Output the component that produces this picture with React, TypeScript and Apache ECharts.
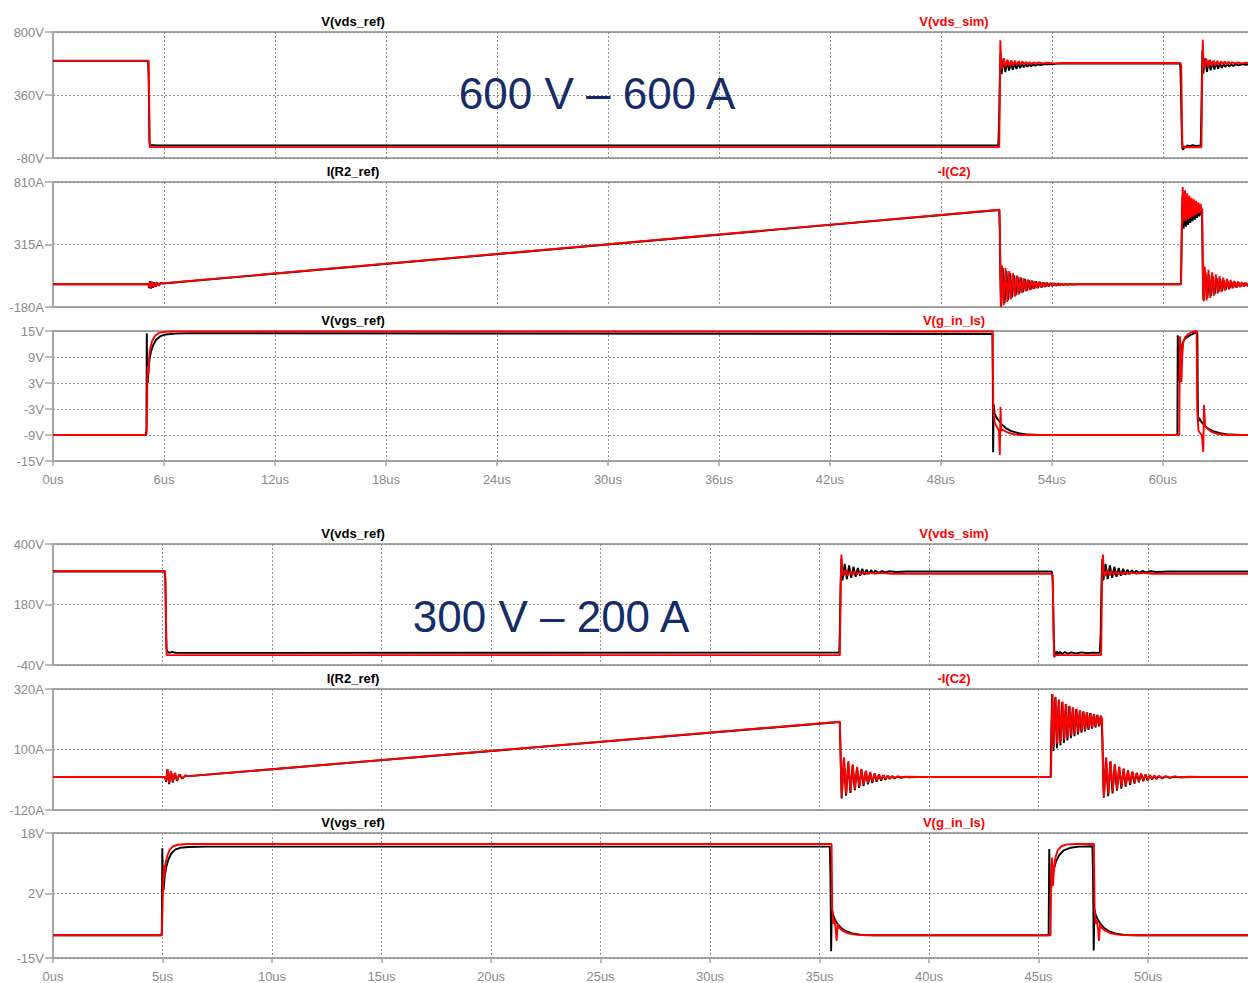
import React, { useEffect, useRef } from 'react';
import * as echarts from 'echarts';

// ---------- tick values ----------
const topTimeTicks = [0, 6, 12, 18, 24, 30, 36, 42, 48, 54, 60];
const bottomTimeTicks = [0, 5, 10, 15, 20, 25, 30, 35, 40, 45, 50];

const vdsTopTicks = [-80, 360, 800];
const iTopTicks = [-180, 315, 810];
const vgsTopTicks = [-15, -9, -3, 3, 9, 15];
const vdsBottomTicks = [-40, 180, 400];
const iBottomTicks = [-120, 100, 320];
const vgsBottomTicks = [-15, 2, 18];

// ---------- 600 V / 600 A waveforms [t (us), value] ----------
const vdsRefTop = [
  [0, 598], [5.14, 598], [5.17, 470], [5.19, 300], [5.21, 40], [5.24, 12], [5.6, 8], [51.1, 8],
  [51.14, 160], [51.18, 470], [51.22, 650], [51.28, 505], [51.38, 615], [51.48, 520], [51.58, 600],
  [51.68, 530], [51.78, 592], [51.88, 536], [51.98, 585], [52.08, 542], [52.18, 580], [52.28, 548],
  [52.38, 577], [52.48, 553], [52.58, 575], [52.68, 557], [52.78, 574], [52.88, 561], [52.98, 574],
  [53.1, 565], [53.25, 574], [53.4, 569], [53.6, 576], [53.9, 574], [54.3, 579], [60.9, 580],
  [60.94, 560], [60.97, 420], [61.0, 200], [61.03, 40], [61.06, -15], [61.1, -22], [61.15, 2],
  [61.22, -8], [61.32, 8], [61.45, 2], [61.6, 9], [61.8, 5], [62.04, 8],
  [62.07, 180], [62.1, 450], [62.13, 670], [62.18, 510], [62.28, 615], [62.38, 522], [62.48, 600],
  [62.58, 532], [62.68, 592], [62.78, 538], [62.88, 585], [62.98, 544], [63.08, 580], [63.18, 550],
  [63.28, 577], [63.38, 555], [63.48, 575], [63.58, 559], [63.68, 574], [63.8, 563], [63.95, 574],
  [64.1, 567], [64.3, 575], [64.5, 571], [64.8, 577], [65.2, 576],
];
const vdsSimTop = [
  [0, 600], [5.17, 600], [5.2, 320], [5.23, -4], [51.15, -4], [51.18, 320], [51.21, 742],
  [51.25, 610], [51.3, 545], [51.4, 615], [51.5, 555], [51.6, 607], [51.7, 560], [51.8, 603],
  [51.9, 565], [52.0, 599], [52.1, 569], [52.2, 596], [52.3, 572], [52.4, 594], [52.5, 574],
  [52.6, 592], [52.7, 576], [52.8, 590], [52.9, 577], [53.0, 588], [53.15, 579], [53.3, 587],
  [53.5, 580], [53.75, 585], [54.1, 581], [54.6, 583], [60.95, 583],
  [60.99, 560], [61.02, 250], [61.05, 20], [61.08, -5], [62.08, -5],
  [62.11, 360], [62.15, 745], [62.19, 600], [62.24, 548], [62.34, 614], [62.44, 556], [62.54, 606],
  [62.64, 562], [62.74, 601], [62.84, 566], [62.94, 598], [63.04, 570], [63.14, 595], [63.24, 573],
  [63.34, 593], [63.44, 575], [63.54, 591], [63.64, 577], [63.76, 589], [63.9, 579], [64.05, 587],
  [64.25, 580], [64.5, 585], [64.8, 582], [65.2, 583],
];

const iRefTop = [
  [0, 0], [5.16, 0], [5.19, -30], [5.24, 24], [5.29, -34], [5.35, 20], [5.41, -28], [5.48, 16],
  [5.55, -20], [5.63, 14], [5.72, -12], [5.82, 12], [5.95, 6], [51.15, 588],
  [51.18, 430], [51.21, 80], [51.24, -178], [51.34, 130], [51.44, -150], [51.54, 105], [51.64, -125],
  [51.74, 88], [51.84, -105], [51.94, 72], [52.04, -88], [52.14, 60], [52.24, -74], [52.34, 50],
  [52.44, -62], [52.54, 41], [52.64, -52], [52.74, 34], [52.84, -43], [52.94, 28], [53.04, -36],
  [53.14, 23], [53.24, -30], [53.34, 19], [53.44, -25], [53.54, 15], [53.64, -20], [53.74, 12],
  [53.84, -16], [53.94, 10], [54.04, -13], [54.14, 8], [54.24, -10], [54.34, 6], [54.44, -8],
  [54.54, 4], [54.64, -6], [54.74, 3], [54.84, -4], [54.94, 2], [55.1, -2], [55.4, 0], [60.97, 0],
  [61.0, 250], [61.03, 560], [61.06, 700], [61.12, 440], [61.18, 690], [61.24, 455], [61.3, 675],
  [61.36, 470], [61.42, 662], [61.48, 485], [61.54, 650], [61.6, 500], [61.66, 638], [61.72, 512],
  [61.78, 628], [61.84, 525], [61.9, 618], [61.96, 538], [62.02, 608], [62.08, 548], [62.11, 560],
  [62.14, 250], [62.17, -60], [62.2, -125], [62.3, 95], [62.4, -110], [62.5, 75], [62.6, -92],
  [62.7, 60], [62.8, -76], [62.9, 48], [63.0, -63], [63.1, 38], [63.2, -52], [63.3, 30], [63.4, -42],
  [63.5, 24], [63.6, -34], [63.7, 19], [63.8, -28], [63.9, 15], [64.0, -22], [64.1, 12], [64.2, -18],
  [64.3, 9], [64.4, -14], [64.5, 7], [64.6, -11], [64.7, 5], [64.8, -9], [64.9, 4], [65.0, -7],
  [65.1, 3], [65.2, -5],
];
const iSimTop = [
  [0, 0], [5.17, 0], [5.2, -24], [5.25, 20], [5.3, -28], [5.36, 16], [5.42, -22], [5.49, 12],
  [5.56, -16], [5.64, 10], [5.73, -9], [5.84, 9], [5.97, 8], [51.16, 590],
  [51.19, 400], [51.22, 20], [51.25, -182], [51.29, 150], [51.39, -165], [51.49, 128], [51.59, -140],
  [51.69, 105], [51.79, -118], [51.89, 86], [51.99, -98], [52.09, 70], [52.19, -82], [52.29, 57],
  [52.39, -68], [52.49, 46], [52.59, -56], [52.69, 37], [52.79, -46], [52.89, 30], [52.99, -38],
  [53.09, 24], [53.19, -31], [53.29, 19], [53.39, -25], [53.49, 15], [53.59, -20], [53.69, 12],
  [53.79, -16], [53.89, 9], [53.99, -13], [54.09, 7], [54.19, -10], [54.29, 5], [54.39, -8],
  [54.49, 4], [54.59, -6], [54.69, 3], [54.79, -4], [54.89, 2], [55.0, -3], [55.2, 1], [55.5, 0],
  [60.98, 0], [61.01, 320], [61.04, 620], [61.07, 770], [61.13, 500], [61.19, 745], [61.25, 505],
  [61.31, 720], [61.37, 515], [61.43, 700], [61.49, 525], [61.55, 685], [61.61, 535], [61.67, 672],
  [61.73, 545], [61.79, 660], [61.85, 555], [61.91, 648], [61.97, 565], [62.03, 636], [62.09, 575],
  [62.12, 600], [62.15, 200], [62.18, -100], [62.21, -135], [62.26, 140], [62.36, -128], [62.46, 115],
  [62.56, -108], [62.66, 95], [62.76, -90], [62.86, 78], [62.96, -75], [63.06, 64], [63.16, -62],
  [63.26, 52], [63.36, -51], [63.46, 42], [63.56, -42], [63.66, 34], [63.76, -34], [63.86, 27],
  [63.96, -28], [64.06, 22], [64.16, -23], [64.26, 18], [64.36, -19], [64.46, 14], [64.56, -15],
  [64.66, 11], [64.76, -12], [64.86, 9], [64.96, -10], [65.06, 7], [65.2, -6],
];

const vgsRefTop = [
  [0, -9], [5.02, -9], [5.05, -8], [5.07, 14.5], [5.09, 4], [5.12, 3], [5.16, 6], [5.22, 8.5],
  [5.3, 10.3], [5.42, 11.8], [5.58, 13], [5.8, 13.8], [6.1, 14.2], [6.6, 14.4], [7.5, 14.5],
  [50.78, 14.3], [50.8, 5], [50.82, -13], [50.85, -2], [50.9, -4], [51, -5], [51.15, -5.8],
  [51.3, -6.6], [51.5, -7.4], [51.8, -8.1], [52.2, -8.6], [52.7, -8.9], [53.3, -9], [60.78, -9],
  [60.8, 14], [60.83, 6], [60.86, 3.5], [60.9, 8], [60.97, 10.5], [61.05, 12], [61.15, 13],
  [61.3, 13.6], [61.5, 14.1], [61.7, 14.5], [61.86, 14.6], [61.88, 2], [61.9, -6], [61.95, -5],
  [62.05, -5.8], [62.2, -6.6], [62.4, -7.4], [62.7, -8.1], [63.1, -8.6], [63.6, -8.9], [64.2, -9],
  [65.2, -9],
];
const vgsSimTop = [
  [0, -9], [5.05, -9], [5.08, -6], [5.1, 4], [5.13, 7], [5.16, 5], [5.2, 9], [5.26, 11],
  [5.35, 12.6], [5.5, 13.8], [5.7, 14.5], [6, 14.8], [6.5, 14.9], [50.8, 14.9], [50.83, -3],
  [50.9, -6], [51.0, -7], [51.14, -8], [51.18, -13.6], [51.22, -2.5], [51.26, -8], [51.35, -7.8],
  [51.5, -8.2], [51.8, -8.7], [52.2, -9], [60.88, -9], [60.92, 13.8], [60.96, 10], [61.0, 3.2],
  [61.04, 9], [61.1, 12.5], [61.2, 13.5], [61.35, 14.2], [61.55, 14.7], [61.75, 15], [61.82, 15],
  [61.85, -3], [61.92, -8], [62.0, -8.5], [62.1, -9], [62.18, -12.9], [62.22, -2.1], [62.28, -7],
  [62.4, -7.5], [62.6, -8.2], [62.9, -8.7], [63.4, -9], [65.2, -9],
];

// ---------- 300 V / 200 A waveforms [t (us), value] ----------
const vdsRefBottom = [
  [0, 300], [5.1, 300], [5.13, 270], [5.15, 150], [5.18, 20], [5.22, 10], [5.3, 4], [5.45, 8],
  [5.6, 4], [35.9, 5], [35.93, 90], [35.96, 250], [36.0, 345], [36.05, 268], [36.15, 328],
  [36.25, 272], [36.35, 322], [36.45, 277], [36.55, 317], [36.65, 281], [36.75, 313], [36.85, 285],
  [36.95, 310], [37.05, 288], [37.15, 307], [37.25, 291], [37.35, 305], [37.45, 293], [37.55, 303],
  [37.7, 295], [37.85, 302], [38.0, 297], [38.2, 301], [38.5, 298], [39, 300], [45.6, 300],
  [45.64, 285], [45.67, 180], [45.7, 50], [45.73, 0], [45.77, -8], [45.83, 10], [45.9, -2],
  [45.98, 8], [46.08, 0], [46.2, 7], [46.35, 1], [46.5, 6], [46.7, 2], [46.95, 6], [47.2, 3],
  [47.5, 5], [47.8, 4], [47.84, 80], [47.87, 240], [47.91, 345], [47.96, 268], [48.06, 328],
  [48.16, 272], [48.26, 322], [48.36, 277], [48.46, 317], [48.56, 281], [48.66, 313], [48.76, 285],
  [48.86, 310], [48.96, 288], [49.06, 307], [49.16, 291], [49.26, 305], [49.36, 293], [49.46, 303],
  [49.6, 295], [49.75, 302], [49.9, 297], [50.1, 301], [50.4, 298], [51, 300], [55.2, 300],
];
const vdsSimBottom = [
  [0, 302], [5.12, 302], [5.15, 200], [5.17, 60], [5.19, -4], [35.93, -4], [35.95, 120],
  [35.98, 300], [36.0, 362], [36.04, 300], [36.1, 284], [36.2, 305], [36.3, 286], [36.4, 302],
  [36.5, 288], [36.6, 300], [36.7, 289], [36.8, 298], [36.9, 290], [37.0, 297], [37.15, 291],
  [37.3, 296], [37.5, 292], [37.8, 295], [38.3, 292], [45.62, 292], [45.65, 260], [45.68, 100],
  [45.71, -12], [45.75, -4], [47.86, -4], [47.88, 130], [47.91, 300], [47.94, 362], [47.98, 300],
  [48.04, 284], [48.14, 305], [48.24, 286], [48.34, 302], [48.44, 288], [48.54, 300], [48.64, 289],
  [48.74, 298], [48.84, 290], [48.94, 297], [49.1, 291], [49.25, 296], [49.45, 292], [49.75, 295],
  [50.2, 292], [55.2, 292],
];

const iRefBottom = [
  [0, 0], [5.12, 0], [5.16, -18], [5.22, 28], [5.3, -26], [5.38, 20], [5.47, -20], [5.56, 14],
  [5.66, -14], [5.77, 9], [5.9, -6], [6.05, 5], [6.2, 3], [35.92, 200], [35.95, 120], [35.98, 10],
  [36.01, -78], [36.11, 66], [36.21, -68], [36.31, 52], [36.41, -58], [36.51, 42], [36.61, -48],
  [36.71, 34], [36.81, -40], [36.91, 27], [37.01, -33], [37.11, 21], [37.21, -27], [37.31, 16],
  [37.41, -22], [37.51, 12], [37.61, -17], [37.71, 9], [37.81, -13], [37.91, 6], [38.01, -10],
  [38.11, 4], [38.21, -7], [38.31, 3], [38.41, -5], [38.55, 2], [38.7, -3], [38.9, 1], [39.1, -1],
  [39.4, 0], [45.55, 0], [45.58, 150], [45.62, 302], [45.68, 95], [45.76, 290], [45.84, 105],
  [45.92, 280], [46.0, 115], [46.08, 272], [46.16, 124], [46.24, 265], [46.32, 133], [46.4, 258],
  [46.48, 141], [46.56, 252], [46.64, 148], [46.72, 247], [46.8, 155], [46.88, 242], [46.96, 161],
  [47.04, 238], [47.12, 166], [47.2, 235], [47.28, 171], [47.36, 232], [47.44, 176], [47.52, 229],
  [47.6, 180], [47.68, 226], [47.76, 184], [47.84, 223], [47.88, 205], [47.92, 120], [47.95, 0],
  [47.98, -75], [48.08, 68], [48.18, -70], [48.28, 55], [48.38, -60], [48.48, 45], [48.58, -50],
  [48.68, 36], [48.78, -42], [48.88, 29], [48.98, -35], [49.08, 23], [49.18, -29], [49.28, 18],
  [49.38, -24], [49.48, 14], [49.58, -19], [49.68, 11], [49.78, -15], [49.88, 8], [49.98, -12],
  [50.08, 6], [50.18, -9], [50.28, 4], [50.38, -7], [50.5, 3], [50.65, -5], [50.8, 2], [51.0, -3],
  [51.2, 1], [51.5, -1], [52, 0], [55.2, 0],
];
const iSimBottom = [
  [0, 0], [5.13, 0], [5.17, -15], [5.23, 29], [5.31, -22], [5.39, 22], [5.48, -17], [5.57, 15],
  [5.67, -11], [5.78, 10], [5.9, -4], [6.05, 6], [6.2, 3], [35.93, 201], [35.96, 100], [35.99, -20],
  [36.02, -72], [36.12, 72], [36.22, -62], [36.32, 58], [36.42, -52], [36.52, 46], [36.62, -43],
  [36.72, 37], [36.82, -35], [36.92, 29], [37.02, -28], [37.12, 23], [37.22, -22], [37.32, 18],
  [37.42, -17], [37.52, 14], [37.62, -13], [37.72, 10], [37.82, -10], [37.92, 7], [38.02, -7],
  [38.12, 5], [38.22, -5], [38.32, 3], [38.45, -3], [38.6, 2], [38.8, -1], [39.1, 1], [39.5, 0],
  [45.57, 0], [45.6, 180], [45.64, 302], [45.7, 110], [45.78, 292], [45.86, 120], [45.94, 282],
  [46.02, 128], [46.1, 274], [46.18, 136], [46.26, 266], [46.34, 143], [46.42, 259], [46.5, 150],
  [46.58, 253], [46.66, 156], [46.74, 248], [46.82, 162], [46.9, 243], [46.98, 167], [47.06, 239],
  [47.14, 172], [47.22, 235], [47.3, 176], [47.38, 232], [47.46, 180], [47.54, 229], [47.62, 184],
  [47.7, 226], [47.78, 188], [47.86, 222], [47.9, 210], [47.93, 100], [47.96, -30], [47.99, -72],
  [48.09, 72], [48.19, -62], [48.29, 58], [48.39, -52], [48.49, 47], [48.59, -44], [48.69, 38],
  [48.79, -36], [48.89, 31], [48.99, -30], [49.09, 25], [49.19, -24], [49.29, 20], [49.39, -20],
  [49.49, 16], [49.59, -16], [49.69, 13], [49.79, -13], [49.89, 10], [49.99, -10], [50.09, 8],
  [50.19, -8], [50.29, 6], [50.39, -6], [50.5, 4], [50.65, -4], [50.8, 3], [51.0, -2], [51.2, 2],
  [51.5, -1], [51.9, 1], [52.3, 0], [55.2, 0],
];

const vgsRefBottom = [
  [0, -9], [4.95, -9], [4.97, -8], [4.99, 14], [5.02, 5], [5.05, 3], [5.1, 6.5], [5.17, 9],
  [5.27, 11], [5.4, 12.6], [5.58, 13.6], [5.8, 14.1], [6.2, 14.3], [7, 14.4], [35.47, 14.4],
  [35.5, 6], [35.53, -13.2], [35.56, -2], [35.61, -3.5], [35.7, -4.8], [35.82, -6], [35.97, -7],
  [36.2, -7.9], [36.5, -8.5], [36.9, -8.9], [37.5, -9], [45.46, -9], [45.49, 13.8], [45.52, 4],
  [45.56, 2.5], [45.62, 6], [45.7, 8.5], [45.8, 10.5], [45.95, 12.2], [46.15, 13.4], [46.45, 14.1],
  [46.85, 14.4], [47.46, 14.5], [47.49, 6], [47.52, -13], [47.55, -2], [47.6, -3.5], [47.7, -4.8],
  [47.83, -6], [47.98, -7], [48.2, -7.9], [48.5, -8.5], [48.9, -8.9], [49.5, -9], [55.2, -9],
];
const vgsSimBottom = [
  [0, -9], [4.97, -9], [5.0, -2], [5.03, 4], [5.06, 9.5], [5.09, 6.5], [5.14, 10], [5.22, 12],
  [5.33, 13.6], [5.48, 14.5], [5.7, 14.9], [6.1, 15.1], [35.55, 15.1], [35.58, -2], [35.63, -6],
  [35.68, -5], [35.74, -7.5], [35.78, -10.5], [35.83, -6], [35.9, -7], [36.05, -7.8], [36.3, -8.5],
  [36.7, -8.9], [37.2, -9], [45.55, -9], [45.58, 8], [45.62, 11.5], [45.66, 4], [45.7, 8],
  [45.77, 11.5], [45.88, 13.5], [46.05, 14.5], [46.3, 15], [46.7, 15.1], [47.53, 15.1], [47.56, -2],
  [47.61, -6], [47.66, -5], [47.72, -7.5], [47.76, -10.5], [47.81, -6], [47.88, -7], [48.05, -7.8],
  [48.3, -8.5], [48.7, -8.9], [49.2, -9], [55.2, -9],
];

// ---------- presentation ----------
const LABEL_GREY = '#8a8a8a';
const FRAME_GREY = '#a6a6a6';
const GRID_GREY = '#8f8f8f';
const TEXT_FONT = 'Liberation Sans, Arial, sans-serif';
const CANVAS_W = 1256; // plot area runs past the visible right edge

type Panel = {
  top: number;
  height: number;
  ticks: number[];
  unit: string;
  timeTicks: number[];
  tMax: number;
  step: number;
  showTime: boolean;
  ref: number[][];
  sim: number[][];
  refName: string;
  simName: string;
};

const panels: Panel[] = [
  { top: 32, height: 126, ticks: vdsTopTicks, unit: 'V', timeTicks: topTimeTicks, tMax: 65.03, step: 6, showTime: false, ref: vdsRefTop, sim: vdsSimTop, refName: 'V(vds_ref)', simName: 'V(vds_sim)' },
  { top: 182, height: 125, ticks: iTopTicks, unit: 'A', timeTicks: topTimeTicks, tMax: 65.03, step: 6, showTime: false, ref: iRefTop, sim: iSimTop, refName: 'I(R2_ref)', simName: '-I(C2)' },
  { top: 331, height: 130, ticks: vgsTopTicks, unit: 'V', timeTicks: topTimeTicks, tMax: 65.03, step: 6, showTime: true, ref: vgsRefTop, sim: vgsSimTop, refName: 'V(vgs_ref)', simName: 'V(g_in_ls)' },
  { top: 544, height: 121, ticks: vdsBottomTicks, unit: 'V', timeTicks: bottomTimeTicks, tMax: 54.93, step: 5, showTime: false, ref: vdsRefBottom, sim: vdsSimBottom, refName: 'V(vds_ref)', simName: 'V(vds_sim)' },
  { top: 689, height: 121, ticks: iBottomTicks, unit: 'A', timeTicks: bottomTimeTicks, tMax: 54.93, step: 5, showTime: false, ref: iRefBottom, sim: iSimBottom, refName: 'I(R2_ref)', simName: '-I(C2)' },
  { top: 833, height: 126, ticks: vgsBottomTicks, unit: 'V', timeTicks: bottomTimeTicks, tMax: 54.93, step: 5, showTime: true, ref: vgsRefBottom, sim: vgsSimBottom, refName: 'V(vgs_ref)', simName: 'V(g_in_ls)' },
];

const operatingPoints = [
  { text: '600 V \u2013 600 A', x: 597, y: 93 },
  { text: '300 V \u2013 200 A', x: 551, y: 616 },
];

function buildOption() {
  const dotted = { color: GRID_GREY, width: 1, type: [2, 2] as number[] };
  const grid = panels.map((p) => ({
    left: 53,
    right: 0,
    top: p.top,
    height: p.height,
    show: true,
    borderColor: FRAME_GREY,
    borderWidth: 2,
    backgroundColor: 'rgba(0,0,0,0)',
  }));
  const xAxis = panels.map((p, i) => ({
    type: 'value',
    gridIndex: i,
    position: 'bottom',
    min: 0,
    max: p.tMax,
    interval: p.step,
    axisLine: { show: false, onZero: false },
    axisTick: { show: p.showTime, length: 5, lineStyle: { color: FRAME_GREY, width: 1.5 }, customValues: p.timeTicks },
    axisLabel: {
      show: p.showTime,
      customValues: p.timeTicks,
      formatter: (v: number) => `${v}us`,
      color: LABEL_GREY,
      fontSize: 13,
      fontFamily: TEXT_FONT,
      margin: 12,
    },
    splitLine: { show: true, lineStyle: dotted },
  }));
  const yAxis = panels.map((p, i) => ({
    type: 'value',
    gridIndex: i,
    min: p.ticks[0],
    max: p.ticks[p.ticks.length - 1],
    axisLine: { show: true, onZero: false, lineStyle: { color: FRAME_GREY, width: 2 } },
    axisTick: { show: true, length: 8, lineStyle: { color: FRAME_GREY, width: 1.5 }, customValues: p.ticks },
    axisLabel: {
      customValues: p.ticks,
      formatter: (v: number) => `${v}${p.unit}`,
      color: LABEL_GREY,
      fontSize: 13,
      fontFamily: TEXT_FONT,
      margin: 9,
    },
    splitLine: { show: true, lineStyle: dotted },
  }));
  const series: any[] = [];
  panels.forEach((p, i) => {
    series.push({
      type: 'line',
      name: p.refName,
      xAxisIndex: i,
      yAxisIndex: i,
      data: p.ref,
      showSymbol: false,
      symbol: 'none',
      z: 2,
      lineStyle: { color: '#000000', width: 1.9 },
    });
    series.push({
      type: 'line',
      name: p.simName,
      xAxisIndex: i,
      yAxisIndex: i,
      data: p.sim,
      showSymbol: false,
      symbol: 'none',
      z: 3,
      lineStyle: { color: '#ff0000', width: 1.9 },
    });
  });
  const graphic: any[] = [];
  panels.forEach((p) => {
    graphic.push({
      type: 'text',
      x: 353,
      y: p.top - 11,
      style: { text: p.refName, fill: '#000000', fontSize: 13, fontWeight: 'bold', fontFamily: TEXT_FONT, align: 'center', verticalAlign: 'middle' },
    });
    graphic.push({
      type: 'text',
      x: 954,
      y: p.top - 11,
      style: { text: p.simName, fill: '#ff0000', fontSize: 13, fontWeight: 'bold', fontFamily: TEXT_FONT, align: 'center', verticalAlign: 'middle' },
    });
  });
  operatingPoints.forEach((o) => {
    graphic.push({
      type: 'text',
      x: o.x,
      y: o.y,
      z: 10,
      style: { text: o.text, fill: '#142d68', fontSize: 44, fontFamily: TEXT_FONT, align: 'center', verticalAlign: 'middle' },
    });
  });
  return {
    animation: false,
    backgroundColor: '#ffffff',
    grid,
    xAxis,
    yAxis,
    series,
    graphic,
  };
}

export default function App() {
  const ref = useRef<HTMLDivElement | null>(null);
  useEffect(() => {
    if (!ref.current) return;
    const chart = echarts.init(ref.current, undefined, { renderer: 'svg' });
    chart.setOption(buildOption() as any);
    return () => chart.dispose();
  }, []);
  return (
    <div
      style={{ position: 'absolute', left: 0, top: 0, width: 1248, height: 983, overflow: 'hidden', background: '#ffffff' }}
    >
      <div ref={ref} style={{ width: CANVAS_W, height: 983 }} />
    </div>
  );
}
